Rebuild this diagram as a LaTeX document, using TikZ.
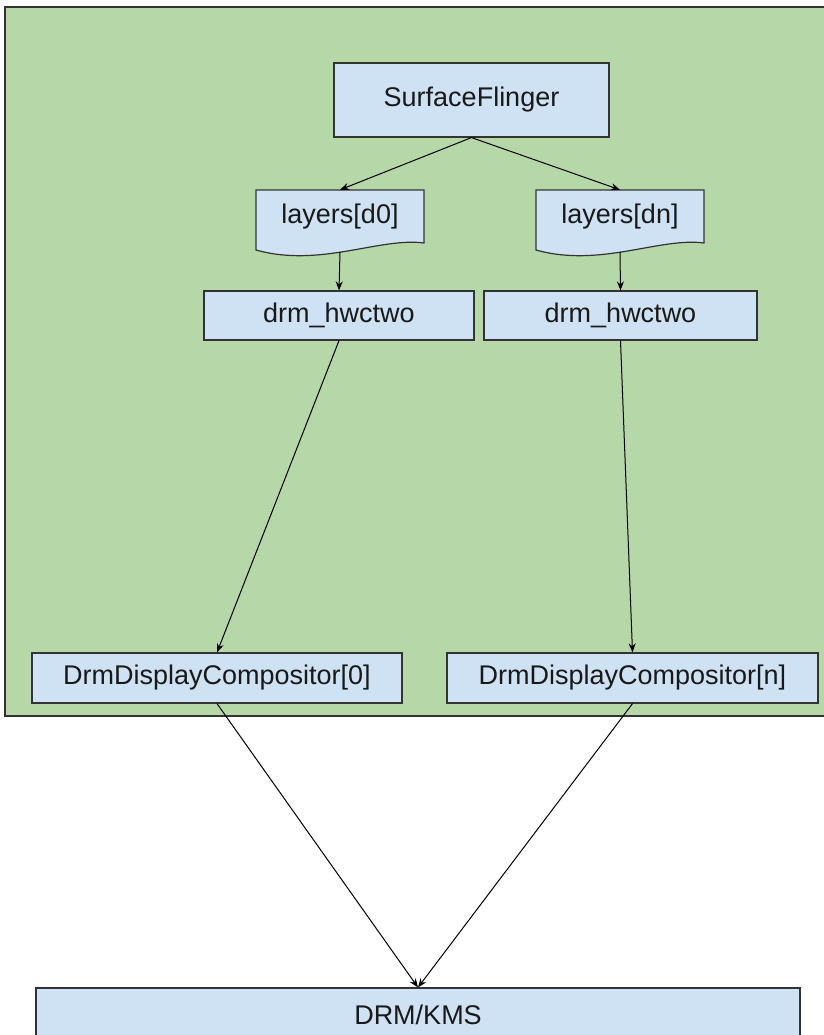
\documentclass[tikz,border=0pt]{standalone}
\usepackage{fontspec}
\setmainfont{Liberation Sans}
\usetikzlibrary{arrows.meta}
\definecolor{grn}{HTML}{B6D7A8}
\definecolor{lblue}{HTML}{CFE2F3}
\definecolor{edge}{HTML}{333333}
\tikzset{
  box/.style={draw=edge, line width=1.2pt, fill=lblue, rectangle, inner sep=0pt,
    font=\fontsize{27}{32}\selectfont, text=black!90},
  docnode/.style={rectangle, inner sep=0pt, font=\fontsize{27}{32}\selectfont, text=black!90},
  docshape/.style={fill=lblue, draw=edge, line width=1.2pt},
  arr/.style={draw=black, line width=1pt, -{Stealth[length=9pt,width=7pt]}},
}
\begin{document}
\begin{tikzpicture}[x=1pt,y=-1pt]
\useasboundingbox (0,0) rectangle (823,1035);
\fill[white] (0,0) rectangle (823,1035);
% green container
\draw[fill=grn, draw=edge, line width=1.2pt] (5,7) rectangle (830,716);
% document shapes
\draw[docshape] (256,190) -- (424,190) -- (424,243)
   .. controls (380,237) and (320,268) .. (256,250) -- cycle;
\draw[docshape] (536,190) -- (704,190) -- (704,243)
   .. controls (660,237) and (600,268) .. (536,250) -- cycle;
% nodes
\node[box, minimum width=275pt, minimum height=74pt] (sf) at (471.5,100) {SurfaceFlinger};
\node[docnode, minimum width=168pt, minimum height=53pt] (ld0) at (340,216.5) {layers[d0]\hspace{20pt}};
\node[docnode, minimum width=168pt, minimum height=53pt] (ldn) at (620,216.5) {layers[dn]\hspace{20pt}};
\node[box, minimum width=270pt, minimum height=49pt] (dh0) at (339,315.5) {drm\_hwctwo};
\node[box, minimum width=273pt, minimum height=49pt] (dhn) at (620.5,315.5) {drm\_hwctwo};
\node[box, minimum width=370pt, minimum height=50pt] (dc0) at (217,678) {DrmDisplayCompositor[0]};
\node[box, minimum width=371pt, minimum height=50pt] (dcn) at (632.5,678) {DrmDisplayCompositor[n]};
\node[box, minimum width=764pt, minimum height=54pt] (drm) at (418,1015) {DRM/KMS};
% connectors
\draw[arr] (sf.south) -- (ld0.north);
\draw[arr] (sf.south) -- (ldn.north);
\draw[arr] ([yshift=-9pt]ld0.south) -- (dh0.north);
\draw[arr] ([yshift=-9pt]ldn.south) -- (dhn.north);
\draw[arr] (dh0.south) -- (dc0.north);
\draw[arr] (dhn.south) -- (dcn.north);
\draw[arr] (dc0.south) -- (drm.north);
\draw[arr] (dcn.south) -- (drm.north);
\end{tikzpicture}
\end{document}
